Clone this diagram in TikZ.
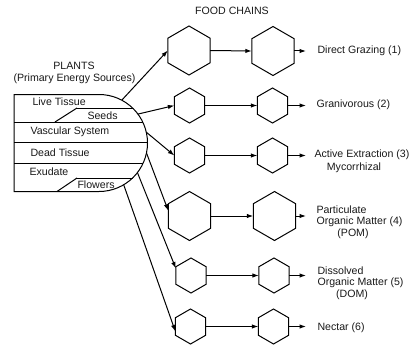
\documentclass[tikz,border=0pt]{standalone}
\usepackage{fontspec}
\setmainfont{Liberation Sans}
\usetikzlibrary{shapes.geometric,arrows.meta}
\begin{document}
\begin{tikzpicture}[x=1pt,y=1pt,
  line width=1pt,
  every node/.style={font=\fontsize{10.6}{12}\selectfont, inner sep=0pt, text=black!90},
  hexa/.style={draw, regular polygon, regular polygon sides=6, shape border rotate=30, inner sep=0pt, outer sep=0pt},
  bighex/.style={hexa, minimum size=49pt},
  smallhex/.style={hexa, minimum size=35pt},
  arr/.style={-{Latex[length=6.5pt,width=4.5pt]}},
  lbl/.style={anchor=west},
  ctr/.style={anchor=center}]
\useasboundingbox (0,0) rectangle (420,-345);

% titles
\node[ctr] (tfood) at (232,-11) {FOOD CHAINS};
\node[ctr] (tplants) at (74,-66) {PLANTS};
\node[ctr] (tprim) at (74.5,-78.5) {(Primary Energy Sources)};

% plant block
\coordinate (pc) at (99,-143);
\draw (99,-94.5) -- (14,-94.5) -- (14,-191.5) -- (99,-191.5) arc[start angle=-90, end angle=90, radius=48.5];
\draw (77,-108) -- (132.6,-108);
\draw (77,-108) -- (55,-122);
\draw (14,-122) -- (142.7,-122);
\draw (14,-142) -- (147.5,-142);
\draw (14,-163) -- (143.2,-163);
\draw (77,-178) -- (132.6,-178);
\draw (77,-178) -- (57,-191.5);

\node[lbl] (live) at (32,-102) {Live Tissue};
\node[lbl] (seeds) at (87,-115.5) {Seeds};
\node[lbl] (vasc) at (30,-132) {Vascular System};
\node[lbl] (dead) at (30,-153) {Dead Tissue};
\node[lbl] (exud) at (29,-172) {Exudate};
\node[lbl] (flow) at (77,-185) {Flowers};

% start points on the arc
\path (pc) ++(62:48.5) coordinate (s1);
\path (pc) ++(36.6:48.5) coordinate (s2);
\path (pc) ++(12.9:48.5) coordinate (s3);
\path (pc) ++(-11.8:48.5) coordinate (s4);
\path (pc) ++(-37.6:48.5) coordinate (s5);
\path (pc) ++(-59.4:48.5) coordinate (s6);

% hexagons
\node[bighex] (h11) at (189,-50.5) {};
\node[bighex] (h12) at (273,-51) {};
\node[smallhex] (h21) at (189.5,-105.5) {};
\node[smallhex] (h22) at (272.5,-105.5) {};
\node[smallhex] (h31) at (189.5,-155.5) {};
\node[smallhex] (h32) at (272.5,-155.5) {};
\node[bighex] (h41) at (189.5,-216) {};
\node[bighex] (h42) at (274.5,-216) {};
\node[smallhex] (h51) at (191,-275.5) {};
\node[smallhex] (h52) at (274,-275.5) {};
\node[smallhex] (h61) at (190.5,-326.5) {};
\node[smallhex] (h62) at (273.5,-326.5) {};

% plant to first hexagons
\draw[arr] (s1) -- (h11.west);
\draw[arr] (s2) -- (h21.west);
\draw[arr] (s3) -- (h31.west);
\draw[arr] (s4) -- (h41.166);
\draw[arr] (s5) -- (h51.155);
\draw[arr] (s6) -- (h61.198);

% between hexagons
\draw[arr] (h11.east) -- (h12.west);
\draw[arr] (h21.east) -- (h22.west);
\draw[arr] (h31.east) -- (h32.west);
\draw[arr] (h41.east) -- (h42.west);
\draw[arr] (h51.east) -- (h52.west);
\draw[arr] (h61.east) -- (h62.west);

% exits
\coordinate (e1) at (306,-51);
\coordinate (e2) at (306,-105.5);
\coordinate (e3) at (306,-155.5);
\coordinate (e4) at (306,-216);
\coordinate (e5) at (306,-275.5);
\coordinate (e6) at (306,-326.5);
\draw[arr] (h12.east) -- (e1);
\draw[arr] (h22.east) -- (e2);
\draw[arr] (h32.east) -- (e3);
\draw[arr] (h42.east) -- (e4);
\draw[arr] (h52.east) -- (e5);
\draw[arr] (h62.east) -- (e6);

% labels
\node[lbl] (l1) at (317,-51) {Direct Grazing (1)};
\node[lbl] (l2) at (316,-105) {Granivorous (2)};
\node[lbl] (l3) at (314,-155) {Active Extraction (3)};
\node[ctr] (l3b) at (354,-168) {Mycorrhizal};
\node[lbl] (l4a) at (316,-210) {Particulate};
\node[lbl] (l4b) at (316,-222) {Organic Matter (4)};
\node[ctr] (l4c) at (353,-233.5) {(POM)};
\node[lbl] (l5a) at (317,-271) {Dissolved};
\node[lbl] (l5b) at (317,-283) {Organic Matter (5)};
\node[ctr] (l5c) at (352,-294.5) {(DOM)};
\node[lbl] (l6) at (317,-328) {Nectar (6)};
\end{tikzpicture}
\end{document}
